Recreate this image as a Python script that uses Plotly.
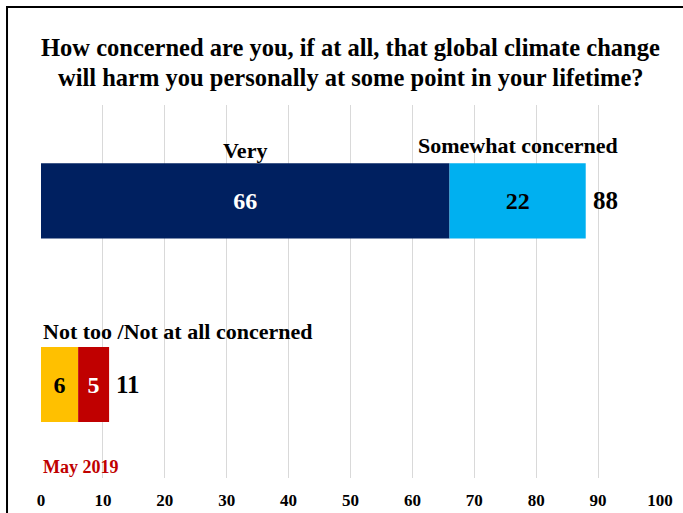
import plotly.graph_objects as go

# Data
categories = ["Not concerned", "Concerned"]
very = [66]
somewhat = [22]
not_too = [6]
not_at_all = [5]
concerned_total = [88]
not_concerned_total = [11]
x_ticks = [0, 10, 20, 30, 40, 50, 60, 70, 80, 90, 100]

FONT = "Liberation Serif"
NAVY = "#002060"
LBLUE = "#00B0F0"
YELLOW = "#FFC000"
RED = "#C00000"

fig = go.Figure()

def seg(name, y, x, base, color, tcolor):
    fig.add_trace(go.Bar(
        name=name, y=y, x=x, base=base, orientation="h",
        marker=dict(color=color, line=dict(width=0)),
        width=0.41,
        texttemplate="<b>%{x}</b>", textposition="inside",
        insidetextanchor="middle",
        textfont=dict(family=FONT, size=24, color=tcolor),
        cliponaxis=False, hoverinfo="skip",
    ))

seg("Very", [categories[1]], very, [0], NAVY, "white")
seg("Somewhat concerned", [categories[1]], somewhat, very, LBLUE, "black")
seg("Not too", [categories[0]], not_too, [0], YELLOW, "black")
seg("Not at all", [categories[0]], not_at_all, not_too, RED, "white")

ann = []
# segment labels above bars
ann.append(dict(x=very[0] / 2, y=categories[1], text="<b>Very</b>",
                yshift=50, showarrow=False,
                font=dict(family=FONT, size=22, color="black")))
ann.append(dict(x=very[0] + somewhat[0] / 2, y=categories[1],
                text="<b>Somewhat concerned</b>", yshift=55, showarrow=False,
                font=dict(family=FONT, size=22, color="black")))
ann.append(dict(x=0, y=categories[0], text="<b>Not too /Not at all concerned</b>",
                xanchor="left", yshift=53, showarrow=False,
                font=dict(family=FONT, size=22, color="black")))
# totals
ann.append(dict(x=concerned_total[0], y=categories[1], text="<b>%d</b>" % concerned_total[0],
                xanchor="left", xshift=5, showarrow=False,
                font=dict(family=FONT, size=25, color="black")))
ann.append(dict(x=not_concerned_total[0], y=categories[0], text="<b>%d</b>" % not_concerned_total[0],
                xanchor="left", xshift=5, showarrow=False,
                font=dict(family=FONT, size=25, color="black")))
# date note
ann.append(dict(x=0, xref="x", y=0.03, yref="paper", text="<b>May 2019</b>",
                xanchor="left", yanchor="middle", showarrow=False,
                font=dict(family=FONT, size=18, color=RED)))
# title lines
ann.append(dict(x=0.5, xref="paper", y=1.155, yref="paper",
                text="<b>How concerned are you, if at all, that global climate change</b>",
                showarrow=False, xanchor="center", yanchor="middle",
                font=dict(family=FONT, size=24.5, color="black")))
ann.append(dict(x=0.5, xref="paper", y=1.075, yref="paper",
                text="<b>will harm you personally at some point in your lifetime?</b>",
                showarrow=False, xanchor="center", yanchor="middle",
                font=dict(family=FONT, size=24.5, color="black")))

fig.update_layout(
    width=683, height=513,
    margin=dict(l=41, r=23, t=105, b=35),
    barmode="overlay",
    showlegend=False,
    plot_bgcolor="white", paper_bgcolor="white",
    annotations=ann,
    xaxis=dict(range=[0, 100], tickvals=x_ticks, ticktext=["<b>%d</b>" % v for v in x_ticks],
               showgrid=True, gridcolor="#D9D9D9", gridwidth=1, zeroline=False,
               showline=False, ticks="", ticklabelstandoff=10, automargin=False,
               tickfont=dict(family=FONT, size=17, color="black"), fixedrange=True),
    yaxis=dict(type="category", categoryorder="array", categoryarray=categories,
               range=[-0.5095, 1.523], showticklabels=False, showgrid=False,
               zeroline=False, showline=False, ticks="", automargin=False),
    shapes=[dict(type="rect", xref="paper", yref="paper",
                 x0=-0.0549, x1=1.2, y0=-0.3, y1=1.2627,
                 line=dict(color="black", width=2), layer="above")],
)

fig.write_html("out.html", config={"displayModeBar": False},
               post_script="document.body.style.margin='0';document.body.style.overflow='hidden';")
